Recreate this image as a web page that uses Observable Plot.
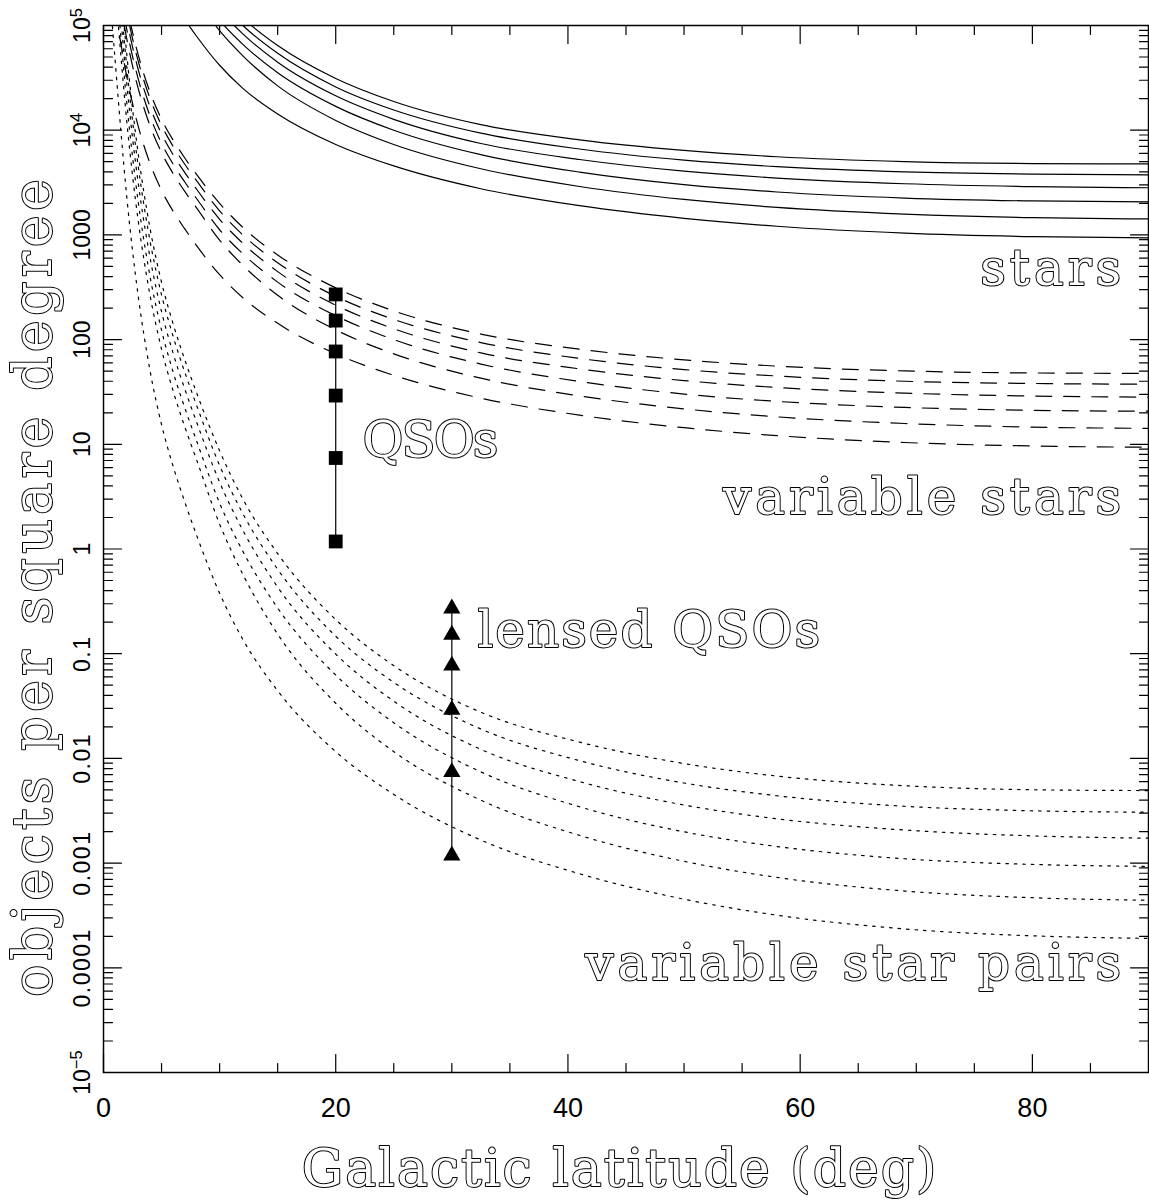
<!DOCTYPE html>
<html><head><meta charset="utf-8">
<script src="https://cdn.jsdelivr.net/npm/d3@7"></script>
<script src="https://cdn.jsdelivr.net/npm/@observablehq/plot@0.6"></script>
<style>body{margin:0;background:#fff}</style>
</head><body><div id="chart"></div>
<script>
// ---- data ----
const starLat = [6,7,8,10,12,15,20,25,32.5,41,50,58,69,80,90];
const stars1 = [804000,543000,380000,200000,118000,64400,31200,18800,11300,8090,6410,5580,5020,4800,4760];
const stars2 = [700000,473000,331000,170000,100000,54200,25900,15600,9370,6610,5170,4490,4000,3810,3750];
const stars3 = [582000,394000,275000,141000,83200,44600,21300,12700,7470,5250,4060,3490,3080,2890,2820];
const stars4 = [473000,320000,224000,112000,66100,35400,16900,10000,5840,3980,3020,2570,2250,2110,2070];
const stars5 = [385000,260000,182000,89100,51300,26500,12400,7310,4280,2900,2180,1830,1580,1460,1420];
const stars6 = [168000,114000,79400,41700,25100,14300,7310,4560,2760,1900,1440,1210,1040,963,937];

const varLat = [1,1.5,2,2.5,3,4,5,6,7,8,10,12,15,20,25,32.5,41,50,58,69,80,90];
const var1 = [700000,320000,157000,86100,51900,23200,12700,8040,5430,3800,2000,1180,644,312,188,113,80.9,64.1,55.8,50.2,48.0,47.6];
const var2 = [610000,279000,137000,75000,45200,20200,11100,7000,4730,3310,1700,1000,542,259,156,93.7,66.1,51.7,44.9,40.0,38.1,37.5];
const var3 = [507000,232000,114000,62400,37600,16800,9230,5820,3940,2750,1410,832,446,213,127,74.7,52.5,40.6,34.9,30.8,28.9,28.2];
const var4 = [412000,188000,92300,50700,30600,13700,7500,4730,3200,2240,1120,661,354,169,100,58.4,39.8,30.2,25.7,22.5,21.1,20.7];
const var5 = [335000,153000,75000,41200,24800,11100,6100,3850,2600,1820,891,513,265,124,73.1,42.8,29.0,21.8,18.3,15.8,14.6,14.2];
const var6 = [146000,66800,32700,18000,10800,4840,2660,1680,1140,794,417,251,143,73.1,45.6,27.6,19.0,14.4,12.1,10.4,9.63,9.37];

const pairLat = [0.6,0.8,1,1.5,2,2.5,3,4,5,6,7,8,10,12,15,20,25,32.5,41,50,58,69,80,90];
const pair1 = [3.95e6,2.03e6,1.07e6,223000,53500,16100,5860,1170,353,141,64.3,31.5,8.67,3.01,0.904,0.212,0.0769,0.0276,0.0143,0.00893,0.00678,0.00548,0.00502,0.00493];
const pair2 = [2.99e6,1.54e6,809000,169000,40600,12300,4450,887,268,107,48.8,23.9,6.28,2.18,0.64,0.147,0.0532,0.0191,0.00951,0.00582,0.0044,0.00349,0.00316,0.00306];
const pair3 = [2.07e6,1.07e6,560000,117000,28100,8470,3080,614,185,73.8,33.7,16.5,4.35,1.51,0.433,0.0991,0.0352,0.0122,0.006,0.00359,0.00265,0.00207,0.00182,0.00173];
const pair4 = [1.37e6,705000,370000,77300,18500,5600,2030,406,123,48.8,22.3,10.9,2.74,0.951,0.273,0.0625,0.0219,0.00743,0.00345,0.00199,0.00144,0.0011,0.000971,0.000931];
const pair5 = [904000,466000,244000,51100,12300,3700,1340,268,80.9,32.2,14.7,7.21,1.73,0.573,0.154,0.0336,0.0116,0.00399,0.00184,0.00104,0.00073,0.000541,0.000467,0.000442];
const pair6 = [172000,88700,46600,9730,2330,705,256,51.1,15.4,6.14,2.81,1.37,0.378,0.137,0.0443,0.0116,0.00453,0.00166,0.000791,0.000452,0.000318,0.000235,0.000202,0.000191];

const qsoLat = 20;
const qso = [270,152,77,29.2,7.4,1.18];
const lensedLat = 30;
const lensed = [0.27,0.152,0.077,0.0292,0.0074,0.00118];

const xMajor = [0,20,40,60,80];
const xMinor = [5,10,15,25,30,35,45,50,55,65,70,75,85];
const yDecades = [1e5,1e4,1e3,100,10,1,0.1,0.01,0.001,1e-4,1e-5];
const yLabels = ["10^5","10^4","1000","100","10","1","0.1","0.01","0.001","0.0001","10^\u22125"];
const yMinor = yDecades.slice(1).flatMap(d => [2,3,4,5,6,7,8,9].map(k => k*d));

// annotation texts and their anchors (data coordinates)
const notesRight = [
  {text: "stars", b: 88.0, n: 329},
  {text: "variable stars", b: 88.0, n: 2.18},
  {text: "variable star pairs", b: 88.0, n: 7.6e-5}
];
const notesLeft = [
  {text: "QSOs", b: 22.3, n: 7.5},
  {text: "lensed QSOs", b: 32.2, n: 0.115}
];
const xTitle = "Galactic latitude (deg)";
const yTitle = "objects per square degree";

// ---- build rows ----
function rows(lat, series, fam) {
  return series.flatMap((vals, i) => vals.map((v, j) => ({curve: fam + i, b: lat[j], n: v})));
}
const starRows = rows(starLat, [stars1,stars2,stars3,stars4,stars5,stars6], "s");
const varRows = rows(varLat, [var1,var2,var3,var4,var5,var6], "v");
const pairRows = rows(pairLat, [pair1,pair2,pair3,pair4,pair5,pair6], "p");

const tickShape = {draw(ctx, l) { ctx.moveTo(0, 0); ctx.lineTo(0, -l); }};
const tk = (data, ch, frameAnchor, rotate, length) => Plot.vector(data, {
  [ch]: d => d, frameAnchor, rotate, length, anchor: "start", shape: tickShape,
  stroke: "black", strokeWidth: 1.2
});

const serif = "'DejaVu Serif', 'Liberation Serif', serif";
const outline = {fill: "white", stroke: "black", strokeWidth: 2, fontFamily: serif};
const lineOpts = {x: "b", y: "n", z: "curve", curve: "monotone-x", stroke: "black", strokeWidth: 1.2, clip: true};

const chart = Plot.plot({
  width: 1149, height: 1203,
  marginLeft: 103, marginTop: 25, marginRight: 1, marginBottom: 131,
  x: {domain: [0, 90], axis: null},
  y: {type: "log", domain: [1e-5, 1e5], axis: null},
  style: {background: "white", fontFamily: "'Liberation Sans', Arial, sans-serif", color: "black"},
  marks: [
    Plot.line(starRows, lineOpts),
    Plot.line(varRows, {...lineOpts, strokeDasharray: "16,12"}),
    Plot.line(pairRows, {...lineOpts, strokeDasharray: "2.5,6"}),
    Plot.ruleX([qsoLat], {x: d => d, y1: d3.min(qso), y2: d3.max(qso), stroke: "black", strokeWidth: 1.2}),
    Plot.dot(qso, {x: () => qsoLat, y: d => d, symbol: "square", r: 7.8, fill: "black"}),
    Plot.ruleX([lensedLat], {x: d => d, y1: d3.min(lensed), y2: d3.max(lensed), stroke: "black", strokeWidth: 1.2}),
    Plot.dot(lensed, {x: () => lensedLat, y: d => d, symbol: "triangle", r: 6.4, fill: "black"}),
    Plot.frame({stroke: "black", strokeWidth: 1.5}),
    tk(xMajor, "x", "bottom", 0, 18), tk(xMinor, "x", "bottom", 0, 9),
    tk(xMajor, "x", "top", 180, 18), tk(xMinor, "x", "top", 180, 9),
    tk(yDecades, "y", "left", 90, 18), tk(yMinor, "y", "left", 90, 9),
    tk(yDecades, "y", "right", -90, 18), tk(yMinor, "y", "right", -90, 9),
    Plot.text(xMajor, {x: d => d, text: d => String(d), frameAnchor: "bottom", lineAnchor: "top", dy: 25, fontSize: 27, fill: "black"}),
    Plot.text(yDecades, {y: d => d, text: (d, i) => yLabels[i], frameAnchor: "left", dx: -14, rotate: -90, textAnchor: "middle", lineAnchor: "bottom", fontSize: 23, fill: "black"}),
    Plot.text(notesRight, {x: "b", y: "n", text: "text", textAnchor: "end", lineAnchor: "bottom", fontSize: 50, ...outline}),
    Plot.text(notesLeft, {x: "b", y: "n", text: "text", textAnchor: "start", lineAnchor: "bottom", fontSize: 50, ...outline}),
    Plot.text([xTitle], {text: d => d, frameAnchor: "bottom", textAnchor: "middle", dy: 113, dx: -6, lineAnchor: "bottom", fontSize: 52, ...outline}),
    Plot.text([yTitle], {text: d => d, frameAnchor: "left", textAnchor: "middle", dx: -53, dy: 37, rotate: -90, lineAnchor: "bottom", fontSize: 54, ...outline})
  ]
});
document.getElementById("chart").appendChild(chart);
const spacing = new Map([
  ...notesRight.map(d => [d.text, "4px"]),
  ["QSOs", "-2px"], ["lensed QSOs", "2px"],
  [xTitle, "2px"], [yTitle, "4.2px"]
]);
d3.select(chart).selectAll("text").each(function() {
  const t = this.textContent;
  const s = spacing.get(t);
  if (s) this.style.letterSpacing = s;
  if (yLabels.includes(t) && t.includes(".")) this.style.letterSpacing = "1.5px";
  if (/^10\^/.test(t)) {            // power-of-ten labels: real superscript
    const [base, exp] = t.split("^");
    this.textContent = base;
    const sup = document.createElementNS("http://www.w3.org/2000/svg", "tspan");
    sup.setAttribute("dy", "-0.45em");
    sup.setAttribute("font-size", "0.72em");
    sup.textContent = exp;
    this.appendChild(sup);
  }
});
</script>
</body></html>
